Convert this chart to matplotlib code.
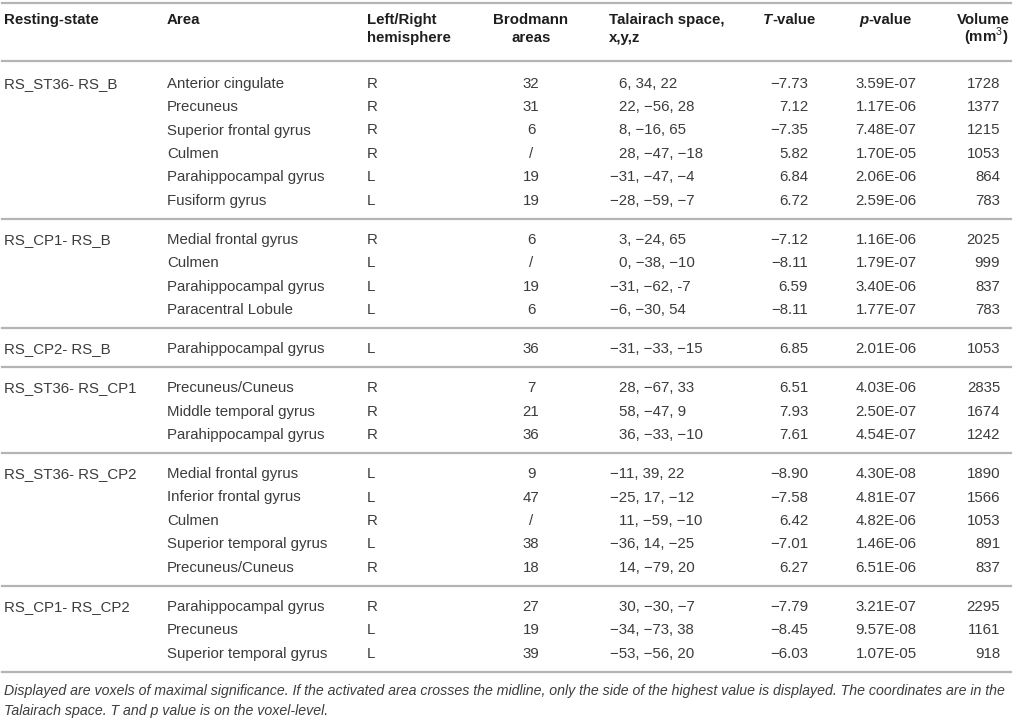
import matplotlib
matplotlib.use("Agg")
import matplotlib.pyplot as plt

# table content
groups = ["RS_ST36- RS_B", "RS_CP1- RS_B", "RS_CP2- RS_B",
          "RS_ST36- RS_CP1", "RS_ST36- RS_CP2", "RS_CP1- RS_CP2"]
group_sizes = [6, 4, 1, 3, 5, 3]

areas = ["Anterior cingulate", "Precuneus", "Superior frontal gyrus", "Culmen",
         "Parahippocampal gyrus", "Fusiform gyrus",
         "Medial frontal gyrus", "Culmen", "Parahippocampal gyrus", "Paracentral Lobule",
         "Parahippocampal gyrus",
         "Precuneus/Cuneus", "Middle temporal gyrus", "Parahippocampal gyrus",
         "Medial frontal gyrus", "Inferior frontal gyrus", "Culmen",
         "Superior temporal gyrus", "Precuneus/Cuneus",
         "Parahippocampal gyrus", "Precuneus", "Superior temporal gyrus"]
hemis = ["R", "R", "R", "R", "L", "L",
         "R", "L", "L", "L",
         "L",
         "R", "R", "R",
         "L", "L", "R", "L", "R",
         "R", "L", "L"]
brodmann = ["32", "31", "6", "/", "19", "19",
            "6", "/", "19", "6",
            "36",
            "7", "21", "36",
            "9", "47", "/", "38", "18",
            "27", "19", "39"]
coords = ["6, 34, 22", "22, \u221256, 28", "8, \u221216, 65", "28, \u221247, \u221218",
          "\u221231, \u221247, \u22124", "\u221228, \u221259, \u22127",
          "3, \u221224, 65", "0, \u221238, \u221210", "\u221231, \u221262, -7", "\u22126, \u221230, 54",
          "\u221231, \u221233, \u221215",
          "28, \u221267, 33", "58, \u221247, 9", "36, \u221233, \u221210",
          "\u221211, 39, 22", "\u221225, 17, \u221212", "11, \u221259, \u221210",
          "\u221236, 14, \u221225", "14, \u221279, 20",
          "30, \u221230, \u22127", "\u221234, \u221273, 38", "\u221253, \u221256, 20"]
t_values = ["\u22127.73", "7.12", "\u22127.35", "5.82", "6.84", "6.72",
            "\u22127.12", "\u22128.11", "6.59", "\u22128.11",
            "6.85",
            "6.51", "7.93", "7.61",
            "\u22128.90", "\u22127.58", "6.42", "\u22127.01", "6.27",
            "\u22127.79", "\u22128.45", "\u22126.03"]
p_values = ["3.59E-07", "1.17E-06", "7.48E-07", "1.70E-05", "2.06E-06", "2.59E-06",
            "1.16E-06", "1.79E-07", "3.40E-06", "1.77E-07",
            "2.01E-06",
            "4.03E-06", "2.50E-07", "4.54E-07",
            "4.30E-08", "4.81E-07", "4.82E-06", "1.46E-06", "6.51E-06",
            "3.21E-07", "9.57E-08", "1.07E-05"]
volumes = ["1728", "1377", "1215", "1053", "864", "783",
           "2025", "999", "837", "783",
           "1053",
           "2835", "1674", "1242",
           "1890", "1566", "1053", "891", "837",
           "2295", "1161", "918"]

footnote = ["Displayed are voxels of maximal significance. If the activated area crosses the midline, "
            "only the side of the highest value is displayed. The coordinates are in the",
            "Talairach space. T and p value is on the voxel-level."]

plt.rcParams['font.family'] = ['Liberation Sans', 'DejaVu Sans']
plt.rcParams['mathtext.fontset'] = 'custom'
plt.rcParams['mathtext.rm'] = 'Liberation Sans'

W, H = 1014, 720
fig = plt.figure(figsize=(W / 100, H / 100), dpi=100)
ax = fig.add_axes([0, 0, 1, 1])
ax.set_xlim(0, W)
ax.set_ylim(H, 0)
ax.axis('off')

fs = 10.8
body = dict(fontsize=fs, color='#3c3c3c', va='baseline')
head = dict(fontsize=fs, color='#1e1e1e', va='baseline', weight='bold')
line_kw = dict(color='#b4b4b4', lw=1.6)
cap = 5.4  # half cap height in px, to put baselines under row centres


def rule(y):
    ax.plot([2, 1011], [y, y], **line_kw)


# header
rule(3)
r1, r2 = 18.5 + cap, 37 + cap
ax.text(4, r1, "Resting-state", **head)
ax.text(167, r1, "Area", **head)
ax.text(367, r1, "Left/Right", **head)
ax.text(367, r2, "hemisphere", **head)
ax.text(531, r1, "Brodmann", ha='center', **head)
ax.text(531, r2, "areas", ha='center', **head)
ax.text(609, r1, "Talairach space,", **head)
ax.text(609, r2, "x,y,z", **head)
tt = ax.text(763, r1, "T", style='italic', **head)
ax.annotate("-value", xy=(1, 0), xycoords=tt, ha='left', va='bottom',
            fontsize=fs, color='#1e1e1e', weight='bold')
pt = ax.text(859, r1, "p", style='italic', **head)
ax.annotate("-value", xy=(1, 0), xycoords=pt, ha='left', va='bottom',
            fontsize=fs, color='#1e1e1e', weight='bold')
ax.text(1010, r1, "Volume", ha='right', **head)
ax.text(1008, r2, r"(mm$^{\mathrm{3}}$)", ha='right', **head)
rule(61)

# body rows
y0, pitch, gap = 82.3, 23.4, 15.7
i = 0
for g, (name, n) in enumerate(zip(groups, group_sizes)):
    first = y0 + pitch * i + gap * g
    ax.text(4, first + cap, name, **body)
    for k in range(n):
        y = y0 + pitch * i + gap * g + cap
        ax.text(167, y, areas[i], **body)
        ax.text(367, y, hemis[i], **body)
        ax.text(531, y, brodmann[i], ha='center', **body)
        cx = 610 if coords[i].startswith("\u2212") else 619
        ax.text(cx, y, coords[i], **body)
        ax.text(808, y, t_values[i], ha='right', **body)
        ax.text(886, y, p_values[i], ha='center', **body)
        ax.text(1000, y, volumes[i], ha='right', **body)
        i += 1
    last = y0 + pitch * (i - 1) + gap * g
    rule(last + 19.6)

# footnote
ax.text(4, 690 + 4.5, footnote[0], fontsize=10.15, style='italic', color='#3c3c3c', va='baseline')
ax.text(4, 710 + 4.5, footnote[1], fontsize=10.15, style='italic', color='#3c3c3c', va='baseline')

fig.savefig("out.png", dpi=100)
